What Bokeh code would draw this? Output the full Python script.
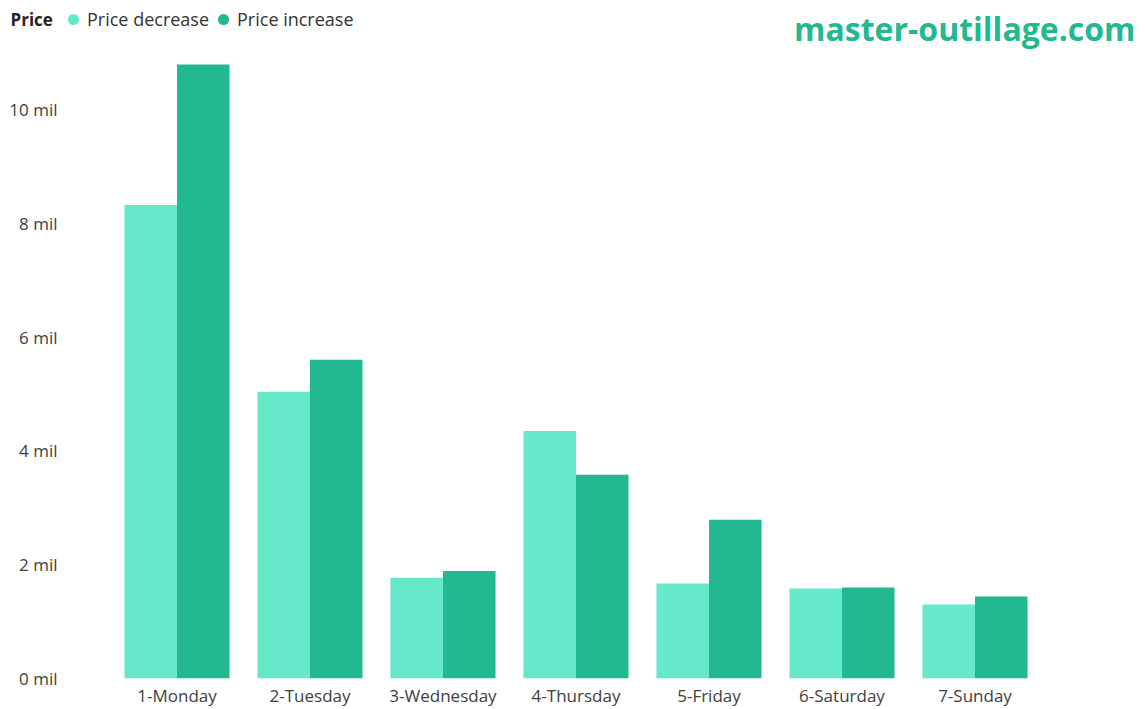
from bokeh.plotting import figure
from bokeh.models import (ColumnDataSource, FactorRange, Range1d, Legend, LegendItem,
                          Label, PrintfTickFormatter, FixedTicker)
from bokeh.transform import dodge
from bokeh.embed import file_html
from bokeh.resources import INLINE

days = ["1-Monday", "2-Tuesday", "3-Wednesday", "4-Thursday", "5-Friday", "6-Saturday", "7-Sunday"]
price_decrease = [8.32, 5.04, 1.77, 4.35, 1.67, 1.58, 1.30]  # millions
price_increase = [10.79, 5.60, 1.89, 3.58, 2.79, 1.60, 1.44]  # millions
y_ticks = [0, 2, 4, 6, 8, 10]
series_names = ["Price decrease", "Price increase"]

LIGHT = "#65e9ca"
DARK = "#22b991"
FONT = "Open Sans"

# ---- header strip: legend + watermark ----
head = figure(width=1145, height=50, x_range=Range1d(0, 1145), y_range=Range1d(0, 50),
              output_backend="svg", toolbar_location=None,
              x_axis_location=None, y_axis_location=None,
              min_border=0, min_border_left=0, min_border_right=0,
              min_border_top=0, min_border_bottom=0)
head.outline_line_color = None
head.xgrid.grid_line_color = None
head.ygrid.grid_line_color = None
head.background_fill_color = "white"
head.border_fill_color = "white"

# zero-size proxy markers, only used for the legend swatches
e1 = head.scatter(x=[0], y=[0], marker="circle", size=0, fill_color=LIGHT, line_color=None)
e2 = head.scatter(x=[0], y=[0], marker="circle", size=0, fill_color=DARK, line_color=None)

legend = Legend(items=[LegendItem(label=series_names[0], renderers=[e1]),
                       LegendItem(label=series_names[1], renderers=[e2])],
                orientation="horizontal", location=(59, 15),
                border_line_color=None, background_fill_alpha=0,
                label_text_font=FONT, label_text_font_size="18px", label_text_color="#333333",
                glyph_width=28, glyph_height=32, label_standoff=0, spacing=0,
                padding=0, margin=0)
head.add_layout(legend)

price_lbl = Label(x=10, y=31, x_units="screen", y_units="screen", text="Price",
                  text_align="left", text_baseline="middle", text_font=FONT,
                  text_font_size="17px", text_font_style="bold", text_color="#252423")
head.add_layout(price_lbl)

wm = Label(x=1135, y=22, x_units="screen", y_units="screen", text="master-outillage.com",
           text_align="right", text_baseline="middle", text_font=FONT,
           text_font_size="32px", text_font_style="bold", text_color="#22b98f")
head.add_layout(wm)

# ---- main chart ----
src = ColumnDataSource(dict(days=days, dec=price_decrease, inc=price_increase))

p = figure(width=1145, height=659, x_range=FactorRange(*days, range_padding=0),
           y_range=Range1d(0, 11.035), output_backend="svg", toolbar_location=None,
           min_border_left=110, min_border_right=104, min_border_top=0, min_border_bottom=30)
p.background_fill_color = "white"
p.border_fill_color = "white"

bw = 0.395
p.vbar(x=dodge("days", -bw / 2, range=p.x_range), top="dec", width=bw, source=src,
       fill_color=LIGHT, line_color=None)
p.vbar(x=dodge("days", bw / 2, range=p.x_range), top="inc", width=bw, source=src,
       fill_color=DARK, line_color=None)

p.outline_line_color = None
p.xgrid.grid_line_color = None
p.ygrid.grid_line_color = None

p.yaxis.ticker = FixedTicker(ticks=y_ticks)
p.yaxis.formatter = PrintfTickFormatter(format="%d mil")
for ax in (p.xaxis[0], p.yaxis[0]):
    ax.axis_line_color = None
    ax.major_tick_line_color = None
    ax.minor_tick_line_color = None
    ax.major_tick_out = 0
    ax.major_tick_in = 0
    ax.major_label_text_font = FONT
    ax.major_label_text_font_size = "17px"
    ax.major_label_text_color = "#404040"
p.yaxis.major_label_standoff = 53
p.xaxis.major_label_standoff = 5

open("out.html", "w").write(file_html([head, p], INLINE))
